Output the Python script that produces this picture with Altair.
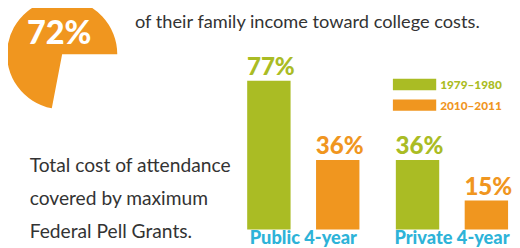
import math
import altair as alt
import pandas as pd

# ---- data ----
categories = ["Public 4-year", "Private 4-year"]
periods = ["1979–1980", "2010–2011"]
values_1979 = [77, 36]
values_2010 = [36, 15]
pie_value = 72
title_text = "of their family income toward college costs."
left_lines = ["Total cost of attendance", "covered by maximum", "Federal Pell Grants."]

GREEN = "#aabc24"
ORANGE = "#f0961f"
BLUE = "#2db3d8"
TEXT = "#333333"
FONT = "Lato"

bars = pd.DataFrame(
    [{"cat": c, "period": periods[0], "v": v} for c, v in zip(categories, values_1979)]
    + [{"cat": c, "period": periods[1], "v": v} for c, v in zip(categories, values_2010)]
)
bars["label"] = bars["v"].astype(str) + "%"
cats_df = pd.DataFrame({"cat": categories})
leg_df = pd.DataFrame({"period": periods})
pie_df = pd.DataFrame({"part": ["gap", "filled"], "v": [100 - pie_value, pie_value], "ord": [0, 1]})

xscale = alt.Scale(domain=categories, range=[243, 508], paddingInner=0.245, paddingOuter=0)
xoff = alt.Scale(domain=periods, paddingInner=0.37, paddingOuter=0)
yscale = alt.Scale(domain=[2.3, 77], range=[218.5, 72], zero=False, nice=False)
cscale = alt.Scale(domain=periods, range=[GREEN, ORANGE])

bar_layer = alt.Chart(bars).mark_bar().encode(
    x=alt.X("cat:N", scale=xscale, axis=None, sort=categories),
    xOffset=alt.XOffset("period:N", scale=xoff, sort=periods),
    y=alt.Y("v:Q", scale=yscale, axis=None),
    color=alt.Color("period:N", scale=cscale, legend=None),
)

val_text = alt.Chart(bars).mark_text(
    font=FONT, fontWeight=900, fontSize=24.5, baseline="alphabetic", align="center", dx=2, dy=-6
).encode(
    x=alt.X("cat:N", scale=xscale, axis=None, sort=categories),
    xOffset=alt.XOffset("period:N", scale=xoff, sort=periods),
    y=alt.Y("v:Q", scale=yscale, axis=None),
    text="label:N",
    color=alt.Color("period:N", scale=cscale, legend=None),
)

cat_text = alt.Chart(cats_df).mark_text(
    font=FONT, fontWeight=900, fontSize=18.5, baseline="alphabetic", align="center", color=BLUE
).encode(
    x=alt.X("cat:N", scale=xscale, axis=None, sort=categories),
    y=alt.value(237.5),
    text="cat:N",
)

bar_part = alt.layer(bar_layer, val_text, cat_text)

lscale = alt.Scale(domain=periods, range=[70, 102.5], paddingInner=0.45, paddingOuter=0)
leg_rect = alt.Chart(leg_df).mark_rect().encode(
    x=alt.value(391), x2=alt.value(435),
    y=alt.Y("period:N", scale=lscale, axis=None, sort=periods),
    color=alt.Color("period:N", scale=cscale, legend=None),
)
leg_text = alt.Chart(leg_df).mark_text(
    font=FONT, fontWeight=900, fontSize=12, align="left", baseline="middle", dy=1
).encode(
    x=alt.value(439),
    y=alt.Y("period:N", scale=lscale, axis=None, sort=periods),
    text="period:N",
    color=alt.Color("period:N", scale=cscale, legend=None),
)
leg_part = alt.layer(leg_rect, leg_text)

pie = alt.Chart(pie_df).mark_arc(outerRadius=56).encode(
    theta=alt.Theta("v:Q", stack=True, scale=alt.Scale(range=[math.pi / 2, 5 * math.pi / 2])),
    order=alt.Order("ord:Q"),
    color=alt.Color("part:N", scale=alt.Scale(domain=["gap", "filled"], range=["rgba(0,0,0,0)", ORANGE]), legend=None),
    x=alt.value(55), y=alt.value(45),
)
pie_text = alt.Chart(pd.DataFrame({"t": [f"{pie_value}%"]})).mark_text(
    font=FONT, fontWeight=900, fontSize=33, color="white", align="center", baseline="alphabetic"
).encode(x=alt.value(52), y=alt.value(35), text="t:N")

title = alt.Chart(pd.DataFrame({"t": [title_text]})).mark_text(
    font=FONT, fontSize=18.5, color=TEXT, align="left", baseline="alphabetic"
).encode(x=alt.value(129), y=alt.value(18), text="t:N")

left = alt.Chart(pd.DataFrame({"i": [0]})).mark_text(
    font=FONT, fontSize=19.5, color=TEXT, align="left", baseline="alphabetic", lineHeight=33.5
).encode(x=alt.value(22), y=alt.value(165), text=alt.value(left_lines))

pie_part = alt.layer(pie, pie_text)

chart = alt.layer(pie_part, title, left, bar_part, leg_part).resolve_scale(
    y="independent", x="independent", color="independent", theta="independent"
).properties(
    width=512, height=240, padding=0, autosize=alt.AutoSizeParams(type="none")
).configure_view(stroke=None)

chart.save("out.html", embed_options={"renderer": "svg", "actions": False})
